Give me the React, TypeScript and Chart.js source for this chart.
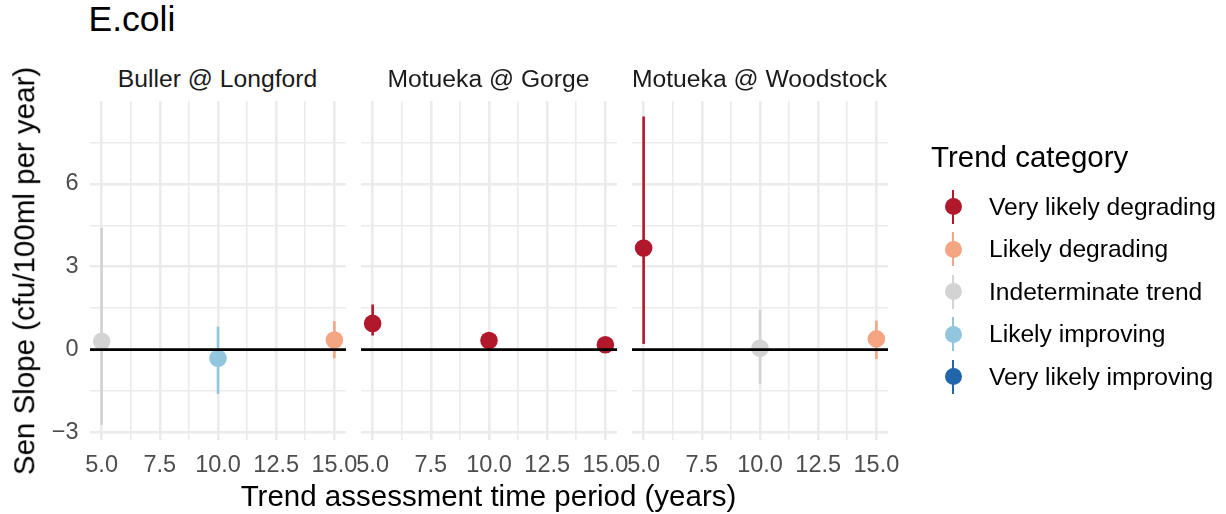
import React, { useEffect, useRef } from "react";
import { Chart, registerables } from "chart.js";

Chart.register(...registerables);

const FONT = '"Liberation Sans", Arial, Helvetica, sans-serif';

// ---------- data ----------
const categories = [
  "Very likely degrading",
  "Likely degrading",
  "Indeterminate trend",
  "Likely improving",
  "Very likely improving",
];
const categoryColors = ["#B2182B", "#F4A582", "#D3D3D3", "#92C5DE", "#2166AC"];

const sites = ["Buller @ Longford", "Motueka @ Gorge", "Motueka @ Woodstock"];
const periods = [5, 10, 15];

const bullerSlope = [0.3, -0.31, 0.35];
const bullerLower = [-2.72, -1.6, -0.31];
const bullerUpper = [4.41, 0.83, 1.03];
const bullerCategory = ["Indeterminate trend", "Likely improving", "Likely degrading"];

const gorgeSlope = [0.95, 0.33, 0.18];
const gorgeLower = [0.51, 0.25, 0.1];
const gorgeUpper = [1.63, 0.42, 0.26];
const gorgeCategory = ["Very likely degrading", "Very likely degrading", "Very likely degrading"];

const woodstockSlope = [3.68, 0.05, 0.39];
const woodstockLower = [0.21, -1.24, -0.34];
const woodstockUpper = [8.44, 1.45, 1.05];
const woodstockCategory = ["Very likely degrading", "Indeterminate trend", "Likely degrading"];

const xTickValues = [5, 6.25, 7.5, 8.75, 10, 11.25, 12.5, 13.75, 15];
const xMajorTicks = [5, 7.5, 10, 12.5, 15];
const yTickValues = [-3, -1.5, 0, 1.5, 3, 4.5, 6, 7.5];
const yMajorTicks = [-3, 0, 3, 6];
const xLimits = [4.5, 15.5];
const yLimits = [-3.27, 9.0];

// ---------- layout ----------
const PANEL_LEFTS = [89.5, 360.5, 631.5];
const PANEL_W = 256;
const PANEL_TOP = 101;
const PANEL_H = 339;
const Y_AXIS_W = 50;
const X_AXIS_H = 45;
const RIGHT_PAD = 50;

type PanelProps = {
  index: number;
  slope: number[];
  lower: number[];
  upper: number[];
  category: string[];
};

function Panel({ index, slope, lower, upper, category }: PanelProps) {
  const ref = useRef<HTMLCanvasElement | null>(null);
  const showY = index === 0;

  useEffect(() => {
    if (!ref.current) return;
    const datasets: any[] = [];
    // zero line (drawn on top)
    datasets.push({
      type: "line",
      data: [
        { x: xLimits[0], y: 0 },
        { x: xLimits[1], y: 0 },
      ],
      borderColor: "#000000",
      borderWidth: 2.6,
      pointRadius: 0,
      order: 0,
    });
    categories.forEach((cat, ci) => {
      const idx = periods.map((_, i) => i).filter((i) => category[i] === cat);
      if (!idx.length) return;
      const barData: any[] = [];
      idx.forEach((i) => {
        barData.push({ x: periods[i], y: lower[i] });
        barData.push({ x: periods[i], y: upper[i] });
        barData.push({ x: periods[i], y: null });
      });
      datasets.push({
        type: "line",
        data: barData,
        borderColor: categoryColors[ci],
        borderWidth: 2.6,
        pointRadius: 0,
        spanGaps: false,
        order: 2,
      });
      datasets.push({
        type: "scatter",
        data: idx.map((i) => ({ x: periods[i], y: slope[i] })),
        backgroundColor: categoryColors[ci],
        borderColor: categoryColors[ci],
        borderWidth: 0,
        pointRadius: 8.8,
        order: 1,
      });
    });

    const gridColor = "#EBEBEB";
    const chart = new Chart(ref.current, {
      type: "scatter",
      data: { datasets },
      options: {
        animation: false,
        responsive: false,
        events: [],
        layout: { autoPadding: false, padding: { left: 0, right: RIGHT_PAD, top: 0, bottom: 0 } },
        plugins: { legend: { display: false }, tooltip: { enabled: false }, title: { display: false } },
        scales: {
          x: {
            type: "linear",
            min: xLimits[0],
            max: xLimits[1],
            afterBuildTicks: (scale: any) => {
              scale.ticks = xTickValues.map((v) => ({ value: v }));
            },
            afterFit: (scale: any) => {
              scale.height = X_AXIS_H;
              scale.paddingLeft = 0;
              scale.paddingRight = 0;
            },
            ticks: {
              autoSkip: false,
              maxRotation: 0,
              minRotation: 0,
              padding: 11,
              color: "#4D4D4D",
              font: { family: FONT, size: 23.5 },
              callback: (v: any) => (xMajorTicks.includes(Number(v)) ? Number(v).toFixed(1) : ""),
            },
            grid: {
              drawTicks: false,
              color: gridColor,
              lineWidth: (ctx: any) => (xMajorTicks.includes(ctx.tick?.value) ? 2.6 : 1.6),
            },
            border: { display: false },
          },
          y: {
            type: "linear",
            min: yLimits[0],
            max: yLimits[1],
            afterBuildTicks: (scale: any) => {
              scale.ticks = yTickValues.map((v) => ({ value: v }));
            },
            afterFit: (scale: any) => {
              scale.width = Y_AXIS_W;
              scale.paddingTop = 0;
              scale.paddingBottom = 0;
            },
            ticks: {
              display: showY,
              autoSkip: false,
              padding: 11.5,
              color: "#4D4D4D",
              font: { family: FONT, size: 23.5 },
              callback: (v: any) => {
                const n = Number(v);
                if (!yMajorTicks.includes(n)) return "";
                return n < 0 ? "\u2212" + Math.abs(n) : String(n);
              },
            },
            grid: {
              drawTicks: false,
              color: gridColor,
              lineWidth: (ctx: any) => (yMajorTicks.includes(ctx.tick?.value) ? 2.6 : 1.6),
            },
            border: { display: false },
          },
        },
      } as any,
    });
    return () => chart.destroy();
  }, []);

  const w = Y_AXIS_W + PANEL_W + RIGHT_PAD;
  const h = PANEL_H + X_AXIS_H;
  return (
    <>
      <canvas
        ref={ref}
        width={w}
        height={h}
        style={{
          position: "absolute",
          left: PANEL_LEFTS[index] - Y_AXIS_W,
          top: PANEL_TOP,
          width: w,
          height: h,
        }}
      />
      <div
        style={{
          position: "absolute",
          left: PANEL_LEFTS[index] + PANEL_W / 2,
          top: 67.1,
          transform: "translateX(-50%)",
          whiteSpace: "nowrap",
          fontFamily: FONT,
          fontSize: 24.7,
          lineHeight: 1,
          color: "#1A1A1A",
        }}
      >
        {sites[index]}
      </div>
    </>
  );
}

const LEGEND_KEY_X = 953;
const LEGEND_KEY_Y0 = 206.7;
const LEGEND_STEP = 42.5;

export default function App() {
  const panelData = [
    { slope: bullerSlope, lower: bullerLower, upper: bullerUpper, category: bullerCategory },
    { slope: gorgeSlope, lower: gorgeLower, upper: gorgeUpper, category: gorgeCategory },
    { slope: woodstockSlope, lower: woodstockLower, upper: woodstockUpper, category: woodstockCategory },
  ];
  return (
    <div
      style={{
        position: "fixed",
        left: 0,
        top: 0,
        width: 1226,
        height: 514,
        background: "#FFFFFF",
        overflow: "hidden",
        fontFamily: FONT,
      }}
    >
      <div
        style={{
          position: "absolute",
          left: 88.5,
          top: 2.2,
          fontSize: 35.5,
          lineHeight: 1,
          color: "#000000",
          whiteSpace: "nowrap",
        }}
      >
        E.coli
      </div>

      {panelData.map((p, i) => (
        <Panel key={i} index={i} {...p} />
      ))}

      <div
        style={{
          position: "absolute",
          left: (PANEL_LEFTS[0] + PANEL_LEFTS[2] + PANEL_W) / 2,
          top: 480.5,
          transform: "translateX(-50%)",
          fontSize: 29.5,
          lineHeight: 1,
          color: "#000000",
          whiteSpace: "nowrap",
        }}
      >
        Trend assessment time period (years)
      </div>

      <div
        style={{
          position: "absolute",
          left: 24,
          top: PANEL_TOP + PANEL_H / 2,
          transform: "translate(-50%, -50%) rotate(-90deg)",
          fontSize: 29.5,
          lineHeight: 1,
          color: "#000000",
          whiteSpace: "nowrap",
        }}
      >
        Sen Slope (cfu/100ml per year)
      </div>

      <div
        style={{
          position: "absolute",
          left: 931,
          top: 141.7,
          fontSize: 29.5,
          lineHeight: 1,
          color: "#000000",
          whiteSpace: "nowrap",
        }}
      >
        Trend category
      </div>

      {categories.map((c, i) => {
        const cy = LEGEND_KEY_Y0 + i * LEGEND_STEP;
        return (
          <React.Fragment key={c}>
            <div
              style={{
                position: "absolute",
                left: LEGEND_KEY_X - 1.2,
                top: cy - 17,
                width: 2.4,
                height: 34,
                background: categoryColors[i],
              }}
            />
            <div
              style={{
                position: "absolute",
                left: LEGEND_KEY_X - 8.5,
                top: cy - 8.5,
                width: 17,
                height: 17,
                borderRadius: "50%",
                background: categoryColors[i],
              }}
            />
            <div
              style={{
                position: "absolute",
                left: 989,
                top: cy,
                transform: "translateY(-50%)",
                fontSize: 24.6,
                lineHeight: 1,
                color: "#000000",
                whiteSpace: "nowrap",
              }}
            >
              {c}
            </div>
          </React.Fragment>
        );
      })}
    </div>
  );
}
